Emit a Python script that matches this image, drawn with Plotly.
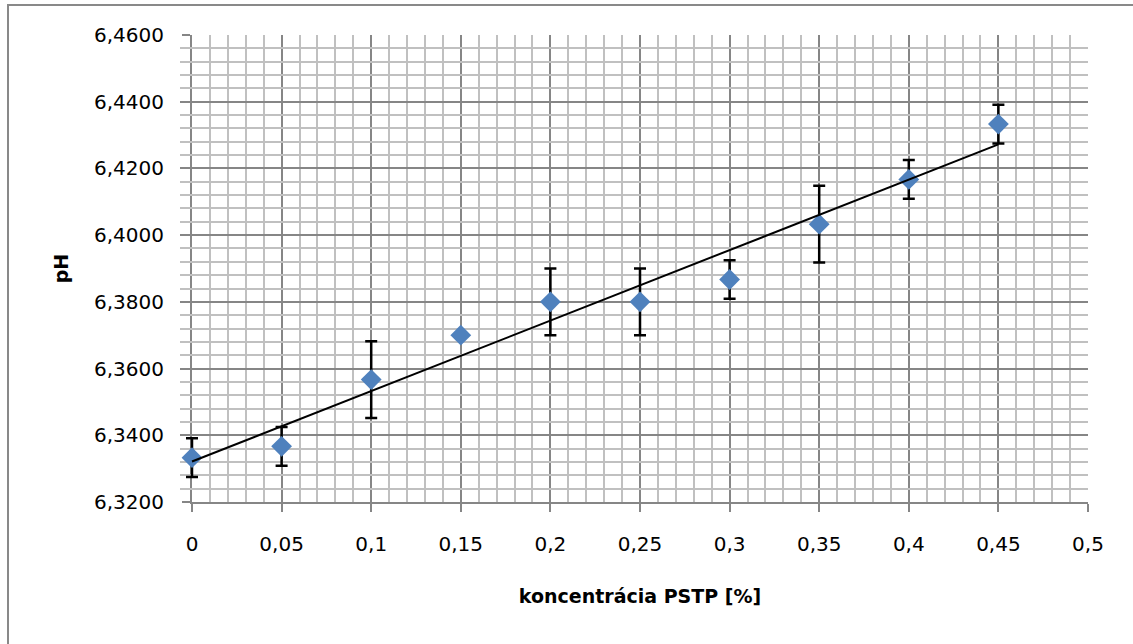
import numpy as np
import plotly.graph_objects as go

# Data
koncentracia = [0, 0.05, 0.1, 0.15, 0.2, 0.25, 0.3, 0.35, 0.4, 0.45]
ph_values = [6.3333, 6.3367, 6.3567, 6.3700, 6.3800, 6.3800, 6.3867, 6.4033, 6.4167, 6.4333]
ph_errors = [0.0058, 0.0058, 0.0115, 0.0, 0.0100, 0.0100, 0.0058, 0.0115, 0.0058, 0.0058]

x_tick_vals = [0, 0.05, 0.1, 0.15, 0.2, 0.25, 0.3, 0.35, 0.4, 0.45, 0.5]
x_tick_text = ["0", "0,05", "0,1", "0,15", "0,2", "0,25", "0,3", "0,35", "0,4", "0,45", "0,5"]

# Linear trendline (least squares) from the data
slope, intercept = np.polyfit(koncentracia, ph_values, 1)
trend_x = [min(koncentracia), max(koncentracia)]
trend_y = [intercept + slope * v for v in trend_x]

FONT = "DejaVu Sans"
MAJOR = "#868686"
MINOR = "#C0C0C0"

# Layout geometry: main plot 896 px wide, plus a little room on the left for an
# invisible twin x-axis so that the first error bar cap is not clipped.
PLOT_W = 896
EXTRA = 12
X_MIN, X_MAX = 0, 0.5
x2_start = X_MIN - (X_MAX - X_MIN) * EXTRA / PLOT_W

fig = go.Figure()
# empty trace so that the main (x, y) subplot with its axes and grid exists
fig.add_trace(go.Scatter(x=[], y=[], xaxis="x", yaxis="y", showlegend=False, hoverinfo="skip"))
fig.add_trace(go.Scatter(
    x=koncentracia, y=ph_values, mode="markers", xaxis="x2", yaxis="y",
    marker=dict(symbol="diamond", size=16, color="#4F81BD", line=dict(width=0)),
    error_y=dict(type="data", array=ph_errors, visible=True, color="black",
                 thickness=2.5, width=6),
    cliponaxis=False,
    showlegend=False,
))
fig.add_trace(go.Scatter(
    x=trend_x, y=trend_y, mode="lines", xaxis="x2", yaxis="y",
    line=dict(color="black", width=2), cliponaxis=False, showlegend=False,
))

fig.update_layout(
    width=1133, height=644,
    margin=dict(l=192 - EXTRA, r=45, t=35, b=142),
    paper_bgcolor="white", plot_bgcolor="rgba(0,0,0,0)",
    separators=",.",
    font=dict(family=FONT, color="black"),
    showlegend=False,
    xaxis=dict(
        domain=[EXTRA / (PLOT_W + EXTRA), 1], anchor="y",
        range=[X_MIN, X_MAX], tickmode="array", tickvals=x_tick_vals, ticktext=x_tick_text,
        showgrid=True, gridcolor=MAJOR, gridwidth=1.5,
        showline=True, linecolor=MAJOR, linewidth=2,
        ticks="outside", ticklen=8, tickcolor=MAJOR, tickwidth=2,
        tickfont=dict(size=20, family=FONT, color="black"),
        ticklabelstandoff=15,
        zeroline=False,
        minor=dict(dtick=0.01, tick0=0, showgrid=True, gridcolor=MINOR, gridwidth=2, ticks=""),
        title=dict(text="<b>koncentrácia PSTP [%]</b>", font=dict(size=19, family=FONT, color="black"),
                   standoff=35),
    ),
    xaxis2=dict(
        domain=[0, 1], range=[x2_start, X_MAX], anchor="y",
        visible=False, showgrid=False, zeroline=False, fixedrange=True,
    ),
    yaxis=dict(
        anchor="x",
        range=[6.32, 6.46], dtick=0.02, tick0=6.32, tickformat=".4f",
        showgrid=True, gridcolor=MAJOR, gridwidth=1.5,
        showline=True, linecolor=MAJOR, linewidth=2,
        ticks="outside", ticklen=8, tickcolor=MAJOR, tickwidth=2,
        tickfont=dict(size=20, family=FONT, color="black"),
        ticklabelstandoff=14,
        zeroline=False,
        minor=dict(dtick=0.004, tick0=6.32, showgrid=True, gridcolor=MINOR, gridwidth=2, ticks=""),
        title=dict(text="<b>pH</b>", font=dict(size=19, family=FONT, color="black"), standoff=20),
    ),
    shapes=[dict(type="rect", xref="paper", yref="paper",
                 x0=(8 - 180) / 908, x1=1.2, y0=-0.4, y1=(502 - 5) / 467,
                 line=dict(color="#898989", width=2), fillcolor="rgba(0,0,0,0)", layer="below")],
)

fig.write_html("out.html", config={"displayModeBar": False},
               post_script="document.body.style.margin='0';")
